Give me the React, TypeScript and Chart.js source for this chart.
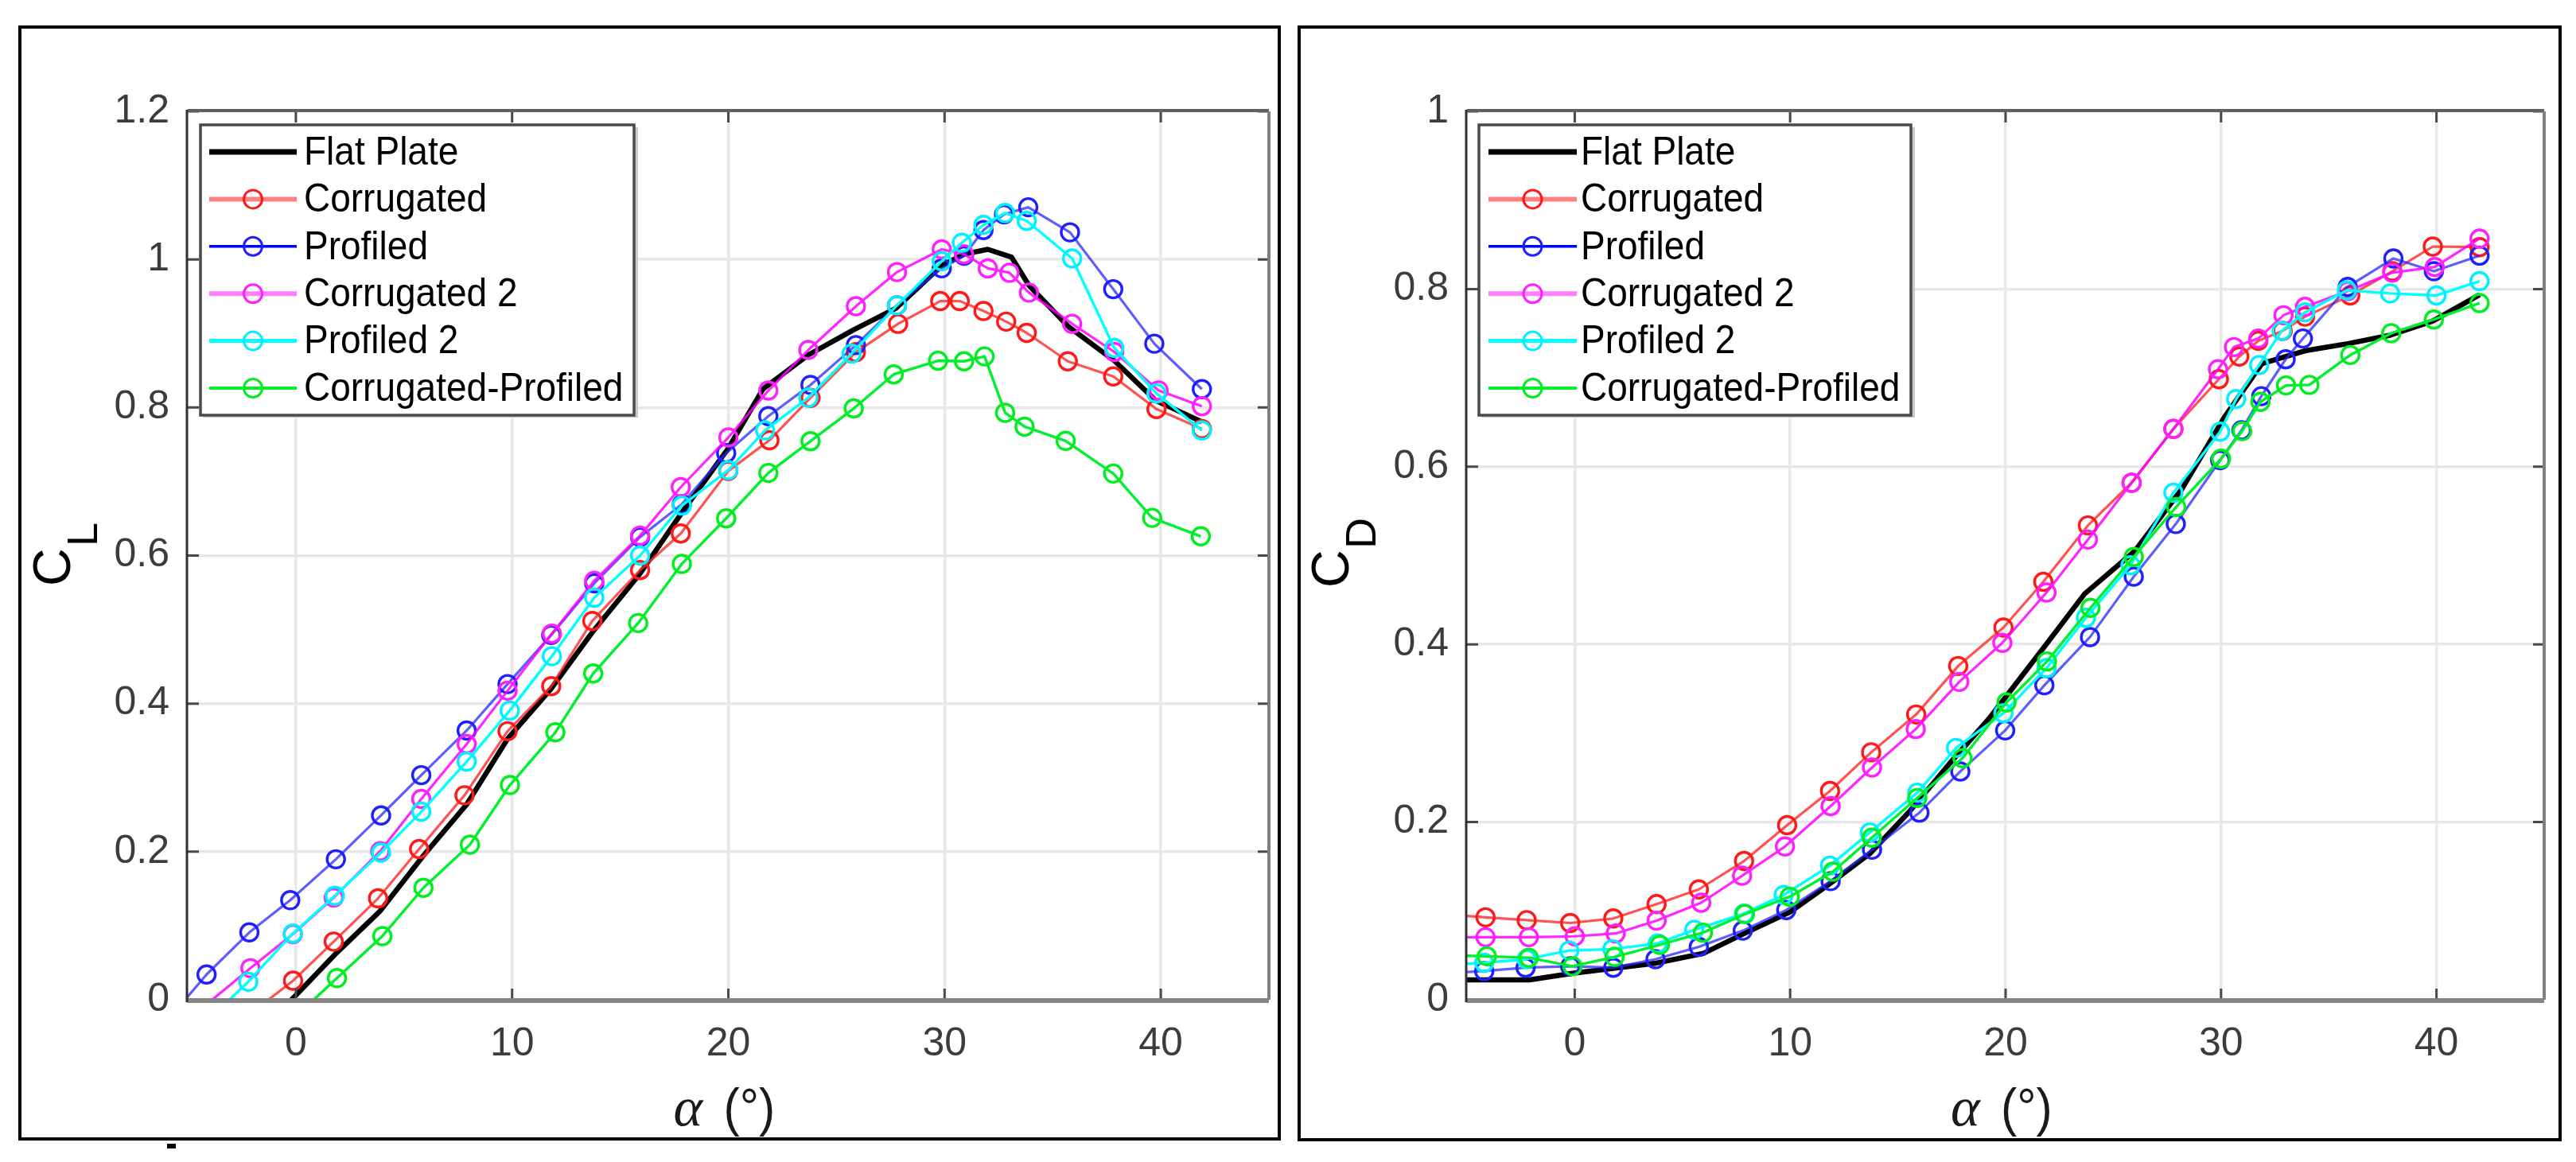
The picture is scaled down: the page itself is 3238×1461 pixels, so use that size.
import React, { useEffect, useRef } from "react";
import { Chart, registerables } from "chart.js";

Chart.register(...registerables);

const seriesNames = ["Flat Plate", "Corrugated", "Profiled", "Corrugated 2", "Profiled 2", "Corrugated-Profiled"];
const xTicks = [0, 10, 20, 30, 40];
const clTicks = [0, 0.2, 0.4, 0.6, 0.8, 1, 1.2];
const cdTicks = [0, 0.2, 0.4, 0.6, 0.8, 1];

// Lift coefficient panel
const clFlatX = [-2.2, -0.2, 1.9, 3.9, 5.9, 7.9, 9.8, 11.8, 13.7, 15.9, 17.9, 20, 21.6, 23.7, 25.8, 27.75, 29.87, 30.9, 32, 33.1, 33.9, 35.73, 37.85, 39.77, 41.9];
const clFlatY = [-0.07, 0, 0.0638, 0.12, 0.1947, 0.2639, 0.3528, 0.42, 0.496, 0.575, 0.66, 0.745, 0.825, 0.871, 0.905, 0.934, 0.9917, 1.007, 1.0136, 1.003, 0.965, 0.9092, 0.8632, 0.8094, 0.7806];
const clCorrX = [-2.15, -0.13, 1.75, 3.8, 5.7, 7.8, 9.79, 11.81, 13.71, 15.92, 17.8, 20, 21.9, 23.8, 25.9, 27.85, 29.8, 30.7, 31.8, 32.85, 33.8, 35.7, 37.8, 39.8, 41.9];
const clCorrY = [-0.02, 0.0258, 0.0786, 0.1369, 0.2036, 0.2762, 0.3627, 0.4235, 0.5117, 0.5804, 0.6298, 0.7143, 0.7557, 0.813, 0.8747, 0.913, 0.9437, 0.9437, 0.9303, 0.916, 0.9008, 0.8624, 0.842, 0.7979, 0.771];
const clProfX = [-6, -4.13, -2.15, -0.26, 1.85, 3.94, 5.8, 7.9, 9.79, 11.81, 13.8, 15.92, 17.85, 19.9, 21.85, 23.8, 25.9, 27.8, 29.87, 30.9, 31.8, 32.75, 33.87, 35.8, 37.8, 39.7, 41.9];
const clProfY = [-0.03, 0.0341, 0.091, 0.1345, 0.1898, 0.249, 0.3034, 0.3637, 0.4264, 0.4927, 0.5625, 0.625, 0.6694, 0.7384, 0.7883, 0.8305, 0.8843, 0.938, 0.988, 1.005, 1.0397, 1.0608, 1.0704, 1.0366, 0.9598, 0.8862, 0.8248];
const clCorr2X = [-4.2, -2.1, -0.14, 1.75, 3.9, 5.8, 7.9, 9.79, 11.84, 13.8, 15.92, 17.8, 20, 21.85, 23.7, 25.9, 27.8, 29.87, 30.9, 32, 33, 33.9, 35.9, 37.85, 39.9, 41.9];
const clCorr2Y = [-0.008, 0.0426, 0.0885, 0.1379, 0.2007, 0.2713, 0.3454, 0.4175, 0.4945, 0.566, 0.627, 0.6924, 0.7595, 0.8229, 0.8777, 0.9368, 0.9829, 1.0136, 1.007, 0.9879, 0.982, 0.9552, 0.913, 0.875, 0.823, 0.8018];
const clProf2X = [-4.15, -2.2, -0.14, 1.8, 3.94, 5.8, 7.9, 9.89, 11.84, 13.8, 15.92, 17.85, 20, 21.7, 23.7, 25.7, 27.8, 29.87, 30.8, 31.8, 32.8, 33.8, 35.9, 37.85, 39.8, 41.9];
const clProf2Y = [-0.03, 0.0243, 0.0895, 0.1404, 0.1987, 0.254, 0.3217, 0.3906, 0.464, 0.543, 0.6, 0.6675, 0.7154, 0.7691, 0.8133, 0.8727, 0.938, 0.9975, 1.0224, 1.0466, 1.0627, 1.052, 1.0013, 0.8804, 0.819, 0.769];
const clMixX = [-0.1, 1.9, 4, 5.9, 8.05, 9.9, 12, 13.75, 15.83, 17.85, 19.9, 21.85, 23.8, 25.8, 27.65, 29.7, 30.9, 31.85, 32.8, 33.7, 35.6, 37.8, 39.6, 41.85];
const clMixY = [-0.025, 0.0292, 0.086, 0.1512, 0.2095, 0.29, 0.3612, 0.4407, 0.5088, 0.5888, 0.6502, 0.7116, 0.7545, 0.7987, 0.8447, 0.8632, 0.8624, 0.869, 0.7929, 0.7741, 0.7549, 0.7108, 0.6509, 0.626];

// Drag coefficient panel
const cdFlatX = [-6, -2.1, -0.1, 3.7, 5.96, 7.87, 10, 11.73, 13.7, 15.55, 17.4, 19.24, 21.7, 23.67, 26, 28.2, 30.15, 31.9, 33.9, 35.88, 37.85, 39.83, 42];
const cdFlatY = [0.0224, 0.0224, 0.0297, 0.0409, 0.0521, 0.0746, 0.0988, 0.1286, 0.1645, 0.2122, 0.2659, 0.3167, 0.3942, 0.4569, 0.5051, 0.5755, 0.6554, 0.7161, 0.7305, 0.7385, 0.748, 0.764, 0.7935];
const cdCorrX = [-6, -4.14, -2.23, -0.21, 1.79, 3.8, 5.76, 7.86, 9.86, 11.85, 13.76, 15.85, 17.8, 19.9, 21.75, 23.82, 25.85, 27.79, 29.9, 30.85, 31.73, 32.86, 33.9, 36, 37.95, 39.83, 42];
const cdCorrY = [0.096, 0.0928, 0.0896, 0.0864, 0.0915, 0.1076, 0.1242, 0.1562, 0.1965, 0.235, 0.2785, 0.3211, 0.3757, 0.419, 0.4705, 0.5339, 0.5819, 0.6426, 0.6985, 0.7241, 0.7417, 0.7529, 0.7689, 0.7928, 0.82, 0.8478, 0.8472];
const cdProfX = [-6, -4.2, -2.28, -0.21, 1.79, 3.75, 5.76, 7.8, 9.82, 11.88, 13.8, 16, 17.9, 19.98, 21.8, 23.92, 25.95, 27.9, 29.96, 30.95, 31.87, 33, 33.8, 35.88, 38, 39.88, 42];
const cdProfY = [0.03, 0.0323, 0.0361, 0.0377, 0.0361, 0.0457, 0.0595, 0.0778, 0.101, 0.1335, 0.1689, 0.2107, 0.257, 0.3032, 0.354, 0.4083, 0.4763, 0.5355, 0.6074, 0.641, 0.6794, 0.7209, 0.7443, 0.8024, 0.8344, 0.82, 0.8376];
const cdCorr2X = [-6, -4.14, -2.13, 0, 1.9, 3.8, 5.87, 7.77, 9.76, 11.88, 13.8, 15.83, 17.85, 19.85, 21.9, 23.82, 25.85, 27.79, 29.86, 30.6, 31.73, 32.9, 33.9, 35.88, 37.95, 39.92, 42];
const cdCorr2Y = [0.0704, 0.0704, 0.0704, 0.0714, 0.0746, 0.089, 0.1092, 0.1396, 0.1725, 0.218, 0.2614, 0.3047, 0.3578, 0.4017, 0.4584, 0.518, 0.5819, 0.6426, 0.7097, 0.7347, 0.7443, 0.7705, 0.78, 0.7976, 0.8184, 0.8248, 0.8568];
const cdProf2X = [-6, -4.2, -2.23, -0.25, 1.75, 3.85, 5.55, 7.86, 9.7, 11.85, 13.7, 15.9, 17.7, 19.9, 21.9, 23.73, 25.8, 27.79, 29.96, 30.7, 31.77, 32.82, 33.9, 35.84, 37.85, 40, 42];
const cdProf2Y = [0.039, 0.0416, 0.0457, 0.0554, 0.057, 0.0634, 0.0787, 0.097, 0.118, 0.151, 0.1883, 0.2331, 0.2835, 0.3226, 0.3733, 0.43, 0.4891, 0.5707, 0.6394, 0.6762, 0.7145, 0.7529, 0.7737, 0.7986, 0.7951, 0.7928, 0.8088];
const cdMixX = [-6, -4.08, -2.13, -0.1, 1.85, 3.95, 5.95, 7.9, 9.98, 11.98, 13.79, 15.9, 18, 20.04, 21.92, 23.94, 25.95, 27.92, 30, 30.98, 31.83, 33.02, 34.1, 36, 37.9, 39.88, 42];
const cdMixY = [0.05, 0.0489, 0.0473, 0.0377, 0.0483, 0.0618, 0.0755, 0.0964, 0.116, 0.1442, 0.1824, 0.2271, 0.2719, 0.3346, 0.3808, 0.4411, 0.4985, 0.5547, 0.609, 0.64, 0.673, 0.6915, 0.6921, 0.7257, 0.7503, 0.7657, 0.7842];

const styles = [
  { line: "#000000", marker: "#000000", width: 6.5, legendWidth: 7, radius: 0 },
  { line: "rgba(255,40,40,0.8)", marker: "#ff1a1a", width: 3.2, legendWidth: 6, radius: 11 },
  { line: "rgba(40,40,255,0.75)", marker: "#2020ff", width: 3.2, legendWidth: 3.5, radius: 11 },
  { line: "rgba(255,0,255,0.85)", marker: "#ff20ff", width: 3.2, legendWidth: 6, radius: 11 },
  { line: "#00ffff", marker: "#00f0ff", width: 3.4, legendWidth: 5, radius: 11 },
  { line: "#00f030", marker: "#00ee20", width: 3.4, legendWidth: 4, radius: 11 },
];

const FONT = '"Liberation Sans", Arial, sans-serif';
const W = 1619;
const H = 1461;

type Panel = {
  xs: number[][];
  ys: number[][];
  yTicks: number[];
  yMax: number;
  left: number;
  right: number;
  sub: string;
  cBase: number;
  cStart: number;
  subBase: number;
  subStart: number;
  legend: { x0: number; x1: number; lineX0: number; lineX1: number; textX: number };
};

const clPanel: Panel = {
  xs: [clFlatX, clCorrX, clProfX, clCorr2X, clProf2X, clMixX],
  ys: [clFlatY, clCorrY, clProfY, clCorr2Y, clProf2Y, clMixY],
  yTicks: clTicks,
  yMax: 1.2,
  left: 236,
  right: 1595,
  sub: "L",
  cBase: 88,
  cStart: 737,
  subBase: 122,
  subStart: 687,
  legend: { x0: 252, x1: 797, lineX0: 263, lineX1: 373, textX: 382 },
};

const cdPanel: Panel = {
  xs: [cdFlatX, cdCorrX, cdProfX, cdCorr2X, cdProf2X, cdMixX],
  ys: [cdFlatY, cdCorrY, cdProfY, cdCorr2Y, cdProf2Y, cdMixY],
  yTicks: cdTicks,
  yMax: 1,
  left: 225,
  right: 1579,
  sub: "D",
  cBase: 76,
  cStart: 739,
  subBase: 110,
  subStart: 690,
  legend: { x0: 240, x1: 783, lineX0: 252, lineX1: 363, textX: 368 },
};

const TOP = 140;
const BOTTOM = 1257;

function makePlugin(panel: Panel) {
  return {
    id: "matlabBox",
    afterDatasetsDraw(chart: any) {
      const ctx = chart.ctx as CanvasRenderingContext2D;
      const a = chart.chartArea;
      const sx = chart.scales.x;
      const sy = chart.scales.y;
      ctx.save();
      // inward tick marks on all four sides
      ctx.lineWidth = 3;
      ctx.strokeStyle = "#4a4a4a";
      for (const t of sx.ticks) {
        const px = sx.getPixelForValue(t.value);
        ctx.beginPath();
        ctx.moveTo(px, a.bottom);
        ctx.lineTo(px, a.bottom - 14);
        ctx.moveTo(px, a.top);
        ctx.lineTo(px, a.top + 14);
        ctx.stroke();
      }
      for (const t of sy.ticks) {
        const py = sy.getPixelForValue(t.value);
        ctx.beginPath();
        ctx.moveTo(a.left, py);
        ctx.lineTo(a.left + 14, py);
        ctx.moveTo(a.right, py);
        ctx.lineTo(a.right - 14, py);
        ctx.stroke();
      }
      // axes box
      const edge = (x0: number, y0: number, x1: number, y1: number, w: number, c: string) => {
        ctx.lineWidth = w;
        ctx.strokeStyle = c;
        ctx.beginPath();
        ctx.moveTo(x0, y0);
        ctx.lineTo(x1, y1);
        ctx.stroke();
      };
      edge(a.left, a.top - 1, a.right, a.top - 1, 4, "#606060");
      edge(a.right, a.top, a.right, a.bottom, 4, "#808080");
      edge(a.left - 1, a.bottom + 1, a.right, a.bottom + 1, 6, "#858585");
      edge(a.left - 1, a.top - 2, a.left - 1, a.bottom + 3, 3, "#303030");

      // legend
      const L = panel.legend;
      const rowsTop = 191;
      const rowStep = 59.4;
      ctx.fillStyle = "#c8c8c8";
      ctx.fillRect(L.x0 + 3, 160, L.x1 - L.x0 + 2, 365);
      ctx.fillStyle = "#ffffff";
      ctx.fillRect(L.x0, 157, L.x1 - L.x0, 365);
      ctx.lineWidth = 3.5;
      ctx.strokeStyle = "#4a4a4a";
      ctx.strokeRect(L.x0, 157, L.x1 - L.x0, 365);
      chart.data.datasets.forEach((ds: any, i: number) => {
        const st = styles[i];
        const y = rowsTop + i * rowStep;
        ctx.lineWidth = st.legendWidth;
        ctx.strokeStyle = i === 1 ? "#ff8080" : i === 3 ? "#ff80ff" : i === 2 ? "#0000ff" : st.line;
        ctx.beginPath();
        ctx.moveTo(L.lineX0, y);
        ctx.lineTo(L.lineX1, y);
        ctx.stroke();
        if (st.radius > 0) {
          ctx.lineWidth = 3;
          ctx.strokeStyle = st.marker;
          ctx.beginPath();
          ctx.arc((L.lineX0 + L.lineX1) / 2, y, 11.5, 0, Math.PI * 2);
          ctx.stroke();
        }
        ctx.save();
        ctx.translate(L.textX, y + 2);
        ctx.scale(0.92, 1);
        ctx.fillStyle = "#000000";
        ctx.font = `50px ${FONT}`;
        ctx.textAlign = "left";
        ctx.textBaseline = "middle";
        ctx.fillText(ds.label, 0, 0);
        ctx.restore();
      });

      // axis titles
      const mid = (a.left + a.right) / 2;
      ctx.fillStyle = "#1a1a1a";
      ctx.textBaseline = "alphabetic";
      ctx.textAlign = "left";
      ctx.font = `italic 70px "Liberation Serif", serif`;
      ctx.fillText("\u03b1", mid - 69, 1415);
      ctx.save();
      ctx.translate(mid - 6, 1415);
      ctx.scale(0.92, 1);
      ctx.font = `66px ${FONT}`;
      ctx.fillText("(\u00b0)", 0, 0);
      ctx.restore();
      ctx.fillStyle = "#000000";
      ctx.save();
      ctx.translate(panel.cBase, panel.cStart);
      ctx.rotate(-Math.PI / 2);
      ctx.font = `66px ${FONT}`;
      ctx.fillText("C", 0, 0);
      ctx.restore();
      ctx.save();
      ctx.translate(panel.subBase, panel.subStart);
      ctx.rotate(-Math.PI / 2);
      ctx.font = `54px ${FONT}`;
      ctx.fillText(panel.sub, 0, 0);
      ctx.restore();
      ctx.restore();
    },
  };
}

function Panel({ panel }: { panel: Panel }) {
  const ref = useRef<HTMLCanvasElement | null>(null);
  useEffect(() => {
    const chart = new Chart(ref.current as HTMLCanvasElement, {
      type: "line",
      data: {
        datasets: seriesNames.map((name, i) => ({
          label: name,
          data: panel.xs[i].map((x, k) => ({ x, y: panel.ys[i][k] })),
          borderColor: styles[i].line,
          borderWidth: styles[i].width,
          borderJoinStyle: "round" as const,
          tension: 0,
          fill: false,
          order: seriesNames.length - i,
          pointStyle: "circle" as const,
          pointRadius: (c: any) => (c.raw && c.raw.y >= 0 && c.raw.x >= -5 ? styles[i].radius : 0),
          pointBorderWidth: 3.4,
          pointBorderColor: styles[i].marker,
          pointBackgroundColor: "rgba(0,0,0,0)",
        })),
      },
      options: {
        responsive: false,
        animation: false,
        devicePixelRatio: 1,
        layout: { padding: { left: 0, top: TOP, right: W - panel.right, bottom: 0 } },
        plugins: { legend: { display: false }, title: { display: false }, tooltip: { enabled: false } },
        scales: {
          x: {
            type: "linear",
            min: -5,
            max: 45,
            afterBuildTicks: (s: any) => {
              s.ticks = xTicks.map((value) => ({ value }));
            },
            afterFit: (s: any) => {
              s.height = H - BOTTOM;
            },
            grid: { color: "#e8e8e8", lineWidth: 3.5, drawTicks: false },
            border: { display: false },
            ticks: {
              autoSkip: false,
              maxRotation: 0,
              padding: 26,
              color: "#3c3c3c",
              font: { family: "Liberation Sans", size: 50 },
              callback: (v: any) => String(v),
            },
          },
          y: {
            type: "linear",
            min: 0,
            max: panel.yMax,
            afterBuildTicks: (s: any) => {
              s.ticks = panel.yTicks.map((value) => ({ value }));
            },
            afterFit: (s: any) => {
              s.width = panel.left;
            },
            grid: { color: "#e8e8e8", lineWidth: 3.5, drawTicks: false },
            border: { display: false },
            ticks: {
              autoSkip: false,
              padding: 23,
              color: "#3c3c3c",
              font: { family: "Liberation Sans", size: 50 },
              callback: (v: any) => String(v),
            },
          },
        },
      },
      plugins: [makePlugin(panel)],
    } as any);
    return () => chart.destroy();
  }, [panel]);
  return <canvas ref={ref} width={W} height={H} style={{ display: "block", width: W, height: H }} />;
}

const frame = (left: number, top: number, right: number, bottom: number): React.CSSProperties => ({
  position: "absolute",
  left,
  top,
  width: right - left,
  height: bottom - top,
  boxSizing: "border-box",
  border: "4px solid #000",
  pointerEvents: "none",
});

export default function App() {
  return (
    <div style={{ position: "absolute", left: 0, top: 0, width: 3238, height: 1461, background: "#fff", overflow: "hidden" }}>
      <div style={{ position: "absolute", left: 0, top: 0 }}>
        <Panel panel={clPanel} />
      </div>
      <div style={{ position: "absolute", left: W, top: 0 }}>
        <Panel panel={cdPanel} />
      </div>
      <div style={frame(23, 32, 1610, 1434)} />
      <div style={frame(1631, 32, 3220, 1435)} />
      <div style={{ position: "absolute", left: 210, top: 1438, width: 11, height: 6, background: "#000" }} />
    </div>
  );
}
